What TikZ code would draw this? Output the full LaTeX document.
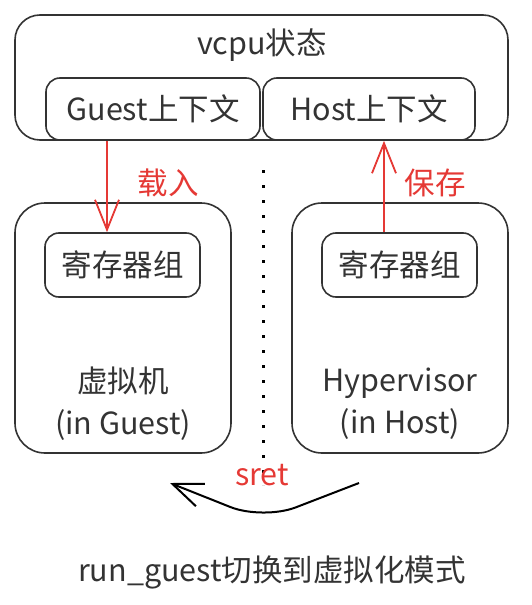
\documentclass[tikz,border=0pt]{standalone}
\usepackage{fontspec}
\setmainfont{Noto Sans CJK SC}
\usetikzlibrary{arrows.meta}
\tikzset{>={Straight Barb[length=30pt,width=24pt]}}
\definecolor{inkgray}{HTML}{333333}
\definecolor{markred}{HTML}{E53935}
\tikzset{
  bigbox/.style={draw=inkgray, line width=1.6pt, rounded corners=30pt, inner sep=0pt},
  smallbox/.style={draw=inkgray, line width=1.6pt, rounded corners=14pt, inner sep=0pt},
  redtext/.style={text=markred},
  redarrow/.style={->, draw=markred, line width=1.8pt}
}

\begin{document}
\begin{tikzpicture}[x=1pt, y=-1pt, font=\fontsize{30.5}{42}\selectfont, text=inkgray]
  \useasboundingbox (0,0) rectangle (531,605);

  % vcpu state with the two contexts
  \node[bigbox, rounded corners=25pt, minimum width=493pt, minimum height=125pt] (vcpu) at (261.5,77.5) {};
  \node (vcpu label) at (262,45) {vcpu状态};
  \node[smallbox, minimum width=214pt, minimum height=62pt] (guest) at (153,109) {Guest上下文};
  \node[smallbox, minimum width=212pt, minimum height=62pt] (host) at (369,109) {Host上下文};

  % the two sides
  \node[bigbox, minimum width=216pt, minimum height=250pt] (vm) at (123,328) {};
  \node[bigbox, minimum width=216pt, minimum height=250pt] (hv) at (400,328) {};
  \node[smallbox, minimum width=155pt, minimum height=64pt] (regs guest) at (122.5,265) {寄存器组};
  \node[smallbox, minimum width=155pt, minimum height=64pt] (regs host) at (399.5,265) {寄存器组};
  \node[align=center] (vm label) at (123,404) {虚拟机\\(in Guest)};
  \node[align=center] (hv label) at (400,404) {Hypervisor\\(in Host)};

  % load / save
  \draw[redarrow] ([xshift=-46pt]guest.south) -- ([xshift=-46pt]guest.south |- regs guest.north);
  \draw[redarrow] ([xshift=-15.5pt]regs host.north) -- ([xshift=-15.5pt]regs host.north |- host.south);
  \node[redtext] (load label) at (168,183) {载入};
  \node[redtext] (save label) at (435,183) {保存};

  % separator
  \coordinate (sep top) at (263,170);
  \coordinate (sep bottom) at (263,485);
  \draw[line width=3pt, dash pattern=on 3pt off 12pt] (sep top) -- (sep bottom);

  % switch
  \coordinate (switch start) at (359,483);
  \coordinate (switch bottom) at (263,520);
  \coordinate (switch end) at (170,483);
  \draw[->, draw=black, line width=2pt, rounded corners=35pt]
    (switch start) -- (switch bottom) -- (switch end);
  \node[redtext] (sret label) at (262,475) {sret};
  \node (switch label) at (272,572) {run\_guest切换到虚拟化模式};
\end{tikzpicture}
\end{document}
